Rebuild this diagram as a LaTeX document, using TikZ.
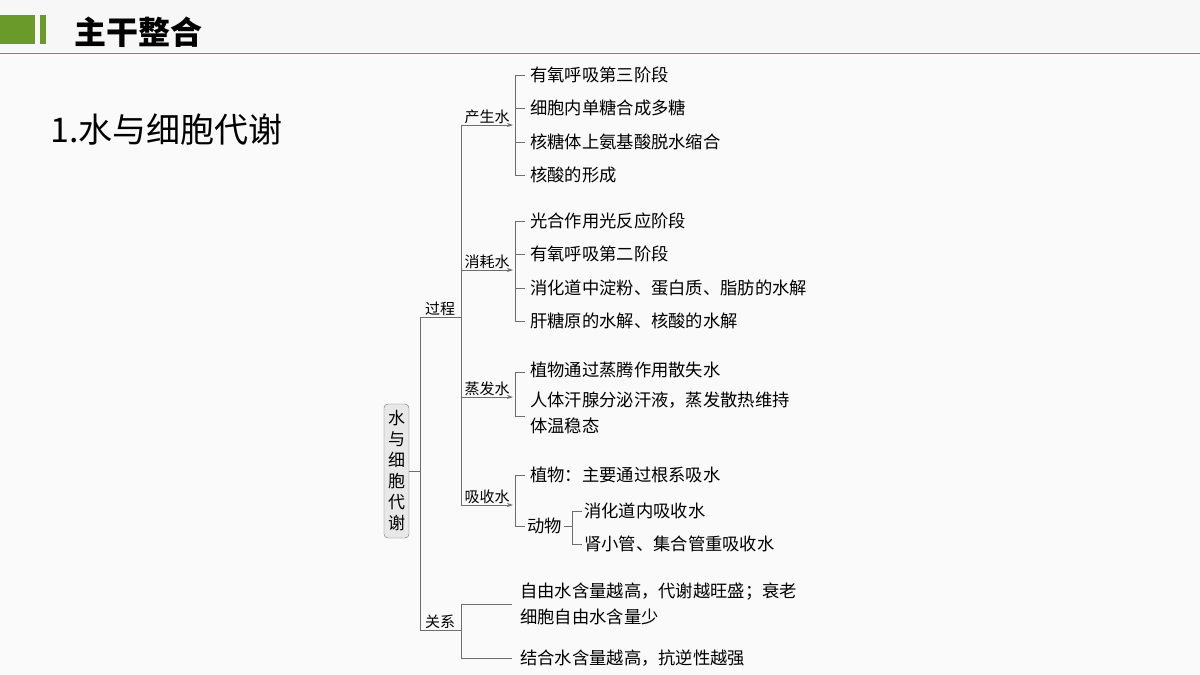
\documentclass[tikz,border=0pt]{standalone}
\usepackage{fontspec}
\setmainfont{Noto Sans CJK SC}
\usetikzlibrary{positioning,arrows.meta}
\definecolor{hdrgreen}{HTML}{6A9A2A}
\definecolor{linegray}{HTML}{6E6E6E}
\tikzset{
  item/.style={anchor=west,inner sep=0pt,font=\fontsize{17.3}{26}\selectfont,align=left},
  branch/.style={anchor=south,inner sep=1pt,font=\fontsize{15}{18}\selectfont},
  conn/.style={draw=linegray,line width=0.8pt},
  arr/.style={conn,-{Stealth[length=6pt,width=4pt]}}
}
\newcommand{\brk}[3]{% bracket at x=#1 from y=#2 to y=#3
  \draw[conn] (#1+10,#2) -- (#1,#2) -- (#1,#3) -- (#1+10,#3);}
\begin{document}
\begin{tikzpicture}[x=1pt,y=-1pt]
\useasboundingbox (0,0) rectangle (1200,675);
\fill[white!97!black] (0,0) rectangle (1200,52);
\fill[white!98!black] (0,53) rectangle (1200,675);
\draw[hdrgreen,line width=1pt] (0,53) -- (1200,53);
\fill[hdrgreen] (0,15) rectangle (35,44);
\fill[hdrgreen] (40,15) rectangle (46,44);
\node[anchor=west,inner sep=0pt,font=\fontsize{32}{33}\selectfont\bfseries] (title) at (74,32) {主干整合};
\node[anchor=west,inner sep=0pt,font=\fontsize{34}{35}\selectfont] (sub) at (50,130) {1.水与细胞代谢};

% root
\node[draw=linegray,fill=black!9,rounded corners=4pt,minimum width=25pt,minimum height=134pt,
      inner sep=0pt,align=center,font=\fontsize{17}{21}\selectfont] (root) at (396.5,471) {水\\与\\细\\胞\\代\\谢};
\draw[conn] (root.east) -- (420,471);
\draw[conn] (420,317) -- (420,630);

% process
\draw[conn] (420,317) -- (461,317);
\node[branch] (guo) at (440,317) {过程};
\draw[conn] (461,125) -- (461,505);

% branches
\foreach \y/\t/\n in {125/产生水/chan,270/消耗水/xiao,397/蒸发水/zheng,505/吸收水/xi}{
  \draw[arr] (461,\y) -- (513,\y);
  \node[branch] (\n) at (487,\y) {\t};
}

% produce water
\brk{515}{75}{175}
\draw[conn] (515,108) -- (525,108);
\draw[conn] (515,142) -- (525,142);
\node[item] (c1) at (530,75) {有氧呼吸第三阶段};
\node[item] (c2) at (530,108) {细胞内单糖合成多糖};
\node[item] (c3) at (530,142) {核糖体上氨基酸脱水缩合};
\node[item] (c4) at (530,175) {核酸的形成};

% consume water
\brk{515}{221}{321}
\draw[conn] (515,254) -- (525,254);
\draw[conn] (515,288) -- (525,288);
\node[item] (x1) at (530,221) {光合作用光反应阶段};
\node[item] (x2) at (530,254) {有氧呼吸第二阶段};
\node[item] (x3) at (530,288) {消化道中淀粉、蛋白质、脂肪的水解};
\node[item] (x4) at (530,321) {肝糖原的水解、核酸的水解};

% evaporate
\brk{515}{372}{416}
\node[item] (z1) at (530,370) {植物通过蒸腾作用散失水};
\node[item,anchor=north west] (z2) at (530,392) {人体汗腺分泌汗液，蒸发散热维持\\体温稳态};

% absorb
\brk{515}{475}{526}
\node[item] (a1) at (530,475) {植物：主要通过根系吸水};
\node[item] (a2) at (527,526) {动物};
\draw[conn] (a2.east) ++(2,0) -- (572,526);
\brk{572}{511}{544}
\node[item] (a3) at (584,511) {消化道内吸收水};
\node[item] (a4) at (584,544) {肾小管、集合管重吸收水};

% relation
\draw[conn] (420,630) -- (461,630);
\node[branch] (guan) at (440,630) {关系};
\draw[conn] (512,604) -- (461,604) -- (461,658) -- (512,658);
\node[item] (g1) at (520,604) {自由水含量越高，代谢越旺盛；衰老\\细胞自由水含量少};
\node[item] (g2) at (520,658) {结合水含量越高，抗逆性越强};
\end{tikzpicture}
\end{document}
